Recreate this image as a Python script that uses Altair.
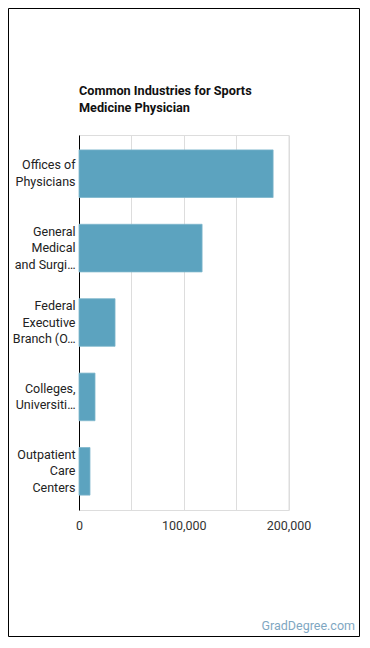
import altair as alt
import pandas as pd

industries = [
    "Offices of Physicians",
    "General Medical and Surgical Hospitals",
    "Federal Executive Branch (OES Designation)",
    "Colleges, Universities, and Professional Schools",
    "Outpatient Care Centers",
]
display_labels = [
    "Offices of|Physicians",
    "General|Medical|and Surgi…",
    "Federal|Executive|Branch (O…",
    "Colleges,|Universiti…",
    "Outpatient|Care|Centers",
]
employment = [185300, 117500, 34400, 15300, 10500]
tick_values = [0, 50000, 100000, 150000, 200000]
title_lines = ["Common Industries for Sports", "Medicine Physician"]

df = pd.DataFrame({"industry": industries, "label": display_labels, "value": employment})
order = display_labels

bars = alt.Chart(df).mark_bar(color="#5ca3bf", stroke="#7db6cc", strokeWidth=0.8).encode(
    x=alt.X("value:Q", scale=alt.Scale(domain=[0, 200000], nice=False),
            axis=alt.Axis(title=None, values=tick_values,
                          labelExpr="datum.value % 100000 == 0 ? format(datum.value, ',') : ''",
                          grid=True, gridColor="#dddddd", domain=False, labelFlush=False,
                          ticks=False, labelPadding=9, labelFontSize=12.5,
                          labelColor="#333333", labelFont="Roboto")),
    y=alt.Y("label:N", sort=order,
            scale=alt.Scale(paddingInner=0.36, paddingOuter=0.2),
            axis=alt.Axis(title=None, labelExpr="split(datum.value, '|')",
                          labelLineHeight=16.5, labelFontSize=12.5, labelColor="#222222",
                          labelFont="Roboto", ticks=False, domain=True, domainColor="#000000",
                          labelPadding=4, grid=False, labelBaseline="middle",
                          labelOffset={"expr": "-(length(split(datum.value, '|')) - 1) * 8.25"})),
)

frame = alt.Chart(pd.DataFrame({"a": [0]})).mark_rect(
    fill=None, stroke="#000000", strokeWidth=1).encode(
    x=alt.value(-70.5), x2=alt.value(280.5), y=alt.value(-126.5), y2=alt.value(501.5))

title = alt.Chart(pd.DataFrame({"a": [0]})).mark_text(
    text=title_lines, align="left", baseline="alphabetic", fontSize=12.7, font="Roboto",
    fontWeight="bold", color="#111111", lineHeight=17).encode(
    x=alt.value(0), y=alt.value(-40))

brand = alt.Chart(pd.DataFrame({"t": ["GradDegree.com"]})).mark_text(
    align="right", baseline="middle", fontSize=12.5, font="Roboto", color="#7fa7c2").encode(
    text="t:N", x=alt.value(276), y=alt.value(491))

chart = alt.layer(bars, frame, title, brand).properties(
    width=209.5, height=375,
    padding={"left": 79, "top": 135, "right": 81.5, "bottom": 138},
    autosize=alt.AutoSizeParams(type="none"),
).configure_view(stroke=None).configure(background="#ffffff")

chart.save("out.html", embed_options={"renderer": "svg", "actions": False})
